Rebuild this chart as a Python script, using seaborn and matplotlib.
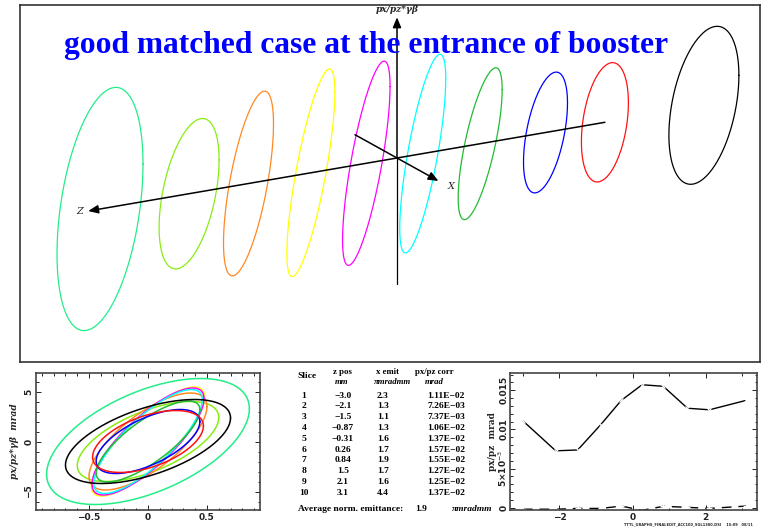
import numpy as np
import pandas as pd
import matplotlib
matplotlib.use("Agg")
import matplotlib.pyplot as plt
import seaborn as sns
from matplotlib.ticker import MultipleLocator, FixedLocator, FixedFormatter

# ---- slice data -------------------------------------------------------
slices = [1, 2, 3, 4, 5, 6, 7, 8, 9, 10]
z_pos = [-3.0, -2.1, -1.5, -0.87, -0.31, 0.26, 0.84, 1.5, 2.1, 3.1]          # mm
x_emit = [2.3, 1.3, 1.1, 1.3, 1.6, 1.7, 1.9, 1.7, 1.6, 4.4]                  # pi mrad mm
pxpz_corr = [1.11e-2, 7.26e-3, 7.37e-3, 1.06e-2, 1.37e-2,
             1.57e-2, 1.55e-2, 1.27e-2, 1.25e-2, 1.37e-2]                    # mrad
pxpz_offset = [-0.0002, -0.0002, -0.0001, -0.0001, 0.0002,
               -0.00034, 0.00017, 0.00004, -0.0001, 0.0002]                  # mrad
avg_emit = 1.9

# phase-space ellipse of each slice: half width in x, half height in px, x-px correlation
x_half = [0.86, 0.60, 0.50, 0.48, 0.475, 0.46, 0.44, 0.44, 0.47, 0.70]       # mm
p_half = [6.3, 4.0, 4.85, 5.45, 5.35, 5.2, 4.05, 3.2, 3.1, 4.2]              # mrad
xp_corr = [0.52, 0.60, 0.72, 0.82, 0.80, 0.80, 0.78, 0.62, 0.50, 0.56]

slice_colors = ["#22ee88", "#88ee11", "#ff8822", "#ffff00", "#ff00ff",
                "#00ffff", "#22bb33", "#0000ff", "#ff1111", "#000000"]

title = "good matched case at the entrance of booster"

W, H = 762, 532
fig = plt.figure(figsize=(W / 100, H / 100), dpi=100)
sns.set_style("white")
plt.rcParams["font.family"] = ["DejaVu Sans"]


def frac(x0, y0, x1, y1):
    """pixel box (left, top, right, bottom) -> figure fraction rect"""
    return [x0 / W, 1 - y1 / H, (x1 - x0) / W, (y1 - y0) / H]


# ---- build ellipse outlines --------------------------------------------
t = np.linspace(0, 2 * np.pi, 241)
rows = []
for s, xm, pm, r, z in zip(slices, x_half, p_half, xp_corr, z_pos):
    xs = xm * np.cos(t)
    ps = pm * (r * np.cos(t) - np.sqrt(1 - r * r) * np.sin(t))
    for k in range(len(t)):
        rows.append((s, k, z, xs[k], ps[k]))
ell = pd.DataFrame(rows, columns=["slice", "k", "z", "x", "p"])
palette = dict(zip(slices, slice_colors))

# oblique projection for the 3D view (screen units per mm / mrad)
Z_VEC = np.array([99.0, 17.0])
X_VEC = np.array([50.0, -27.7])
P_VEC = np.array([0.0, 21.0])
ell["sx"] = ell["z"] * Z_VEC[0] + ell["x"] * X_VEC[0] + ell["p"] * P_VEC[0]
ell["sy"] = ell["z"] * Z_VEC[1] + ell["x"] * X_VEC[1] + ell["p"] * P_VEC[1]

# ---- top panel: slices along z ------------------------------------------
ax3 = fig.add_axes(frac(20, 5, 760, 362))
ax3.set_xlim(-377, 363)
ax3.set_ylim(-204, 153)
ax3.set_xticks([])
ax3.set_yticks([])
for sp in ax3.spines.values():
    sp.set_color("#333333")
    sp.set_linewidth(1.2)

sns.lineplot(data=ell, x="sx", y="sy", hue="slice", palette=palette, sort=False,
             estimator=None, legend=False, linewidth=0.9, ax=ax3)
ax3.set_xlabel("")
ax3.set_ylabel("")

arrow = dict(arrowstyle="-|>,head_length=0.6,head_width=0.25", color="black",
             lw=1.1, shrinkA=0, shrinkB=0, mutation_scale=10)
# px axis
ax3.plot([0, 0], [-6.0 * P_VEC[1], 0], color="black", lw=0.9)
ax3.annotate("", xy=(0, 6.7 * P_VEC[1]), xytext=(0, 0), arrowprops=arrow)
ax3.text(0, 148, "px/pz*γβ", ha="center", va="center", fontsize=6.5,
         family="DejaVu Serif", style="italic", weight="bold")
# x axis
ax3.annotate("", xy=tuple(0.83 * X_VEC), xytext=tuple(-0.84 * X_VEC), arrowprops=arrow)
ax3.text(*(1.02 * X_VEC), "X", ha="left", va="center", fontsize=7,
         family="DejaVu Serif", style="italic")
# z axis
ax3.annotate("", xy=tuple(-3.12 * Z_VEC), xytext=tuple(2.1 * Z_VEC), arrowprops=arrow)
ax3.text(*(-3.17 * Z_VEC), "Z", ha="right", va="center", fontsize=7,
         family="DejaVu Serif", style="italic")

ax3.text(-31, 113, title, ha="center", va="center", fontsize=22.7,
         family="Liberation Serif", weight="bold", color="#0000ff")

# ---- bottom left: all slices in x-px phase space -------------------------
axL = fig.add_axes(frac(36, 373, 260, 510))
sns.lineplot(data=ell, x="x", y="p", hue="slice", palette=palette, sort=False,
             estimator=None, legend=False, linewidth=1.1, ax=axL)
axL.set_xlim(-0.95, 0.95)
axL.set_ylim(-6.85, 6.85)
axL.xaxis.set_major_locator(FixedLocator([-0.5, 0, 0.5]))
axL.xaxis.set_major_formatter(FixedFormatter(["−0.5", "0", "0.5"]))
axL.xaxis.set_minor_locator(MultipleLocator(0.1))
axL.yaxis.set_major_locator(FixedLocator([-5, 0, 5]))
axL.yaxis.set_major_formatter(FixedFormatter(["−5", "0", "5"]))
axL.yaxis.set_minor_locator(MultipleLocator(1))
axL.set_xlabel("")
axL.set_ylabel("px/pz*γβ  mrad", fontsize=6.5, family="DejaVu Serif",
               style="italic", weight="bold", labelpad=4)

# ---- bottom right: correlation vs z --------------------------------------
axR = fig.add_axes(frac(510, 373, 757, 510))
sns.lineplot(x=z_pos, y=pxpz_corr, color="black", marker="x", markersize=3,
             markeredgewidth=0.8, linewidth=1.0, ax=axR)
sns.lineplot(x=z_pos, y=pxpz_offset, color="black", marker="+", markersize=4,
             markeredgewidth=0.8, linewidth=1.0, ax=axR)
axR.lines[-1].set_dashes((7, 5))
axR.set_xlim(-3.35, 3.4)
axR.set_ylim(-0.0003, 0.0172)
axR.xaxis.set_major_locator(FixedLocator([-2, 0, 2]))
axR.xaxis.set_major_formatter(FixedFormatter(["−2", "0", "2"]))
axR.xaxis.set_minor_locator(FixedLocator([-3, -1, 1, 3]))
axR.yaxis.set_major_locator(FixedLocator([0, 0.005, 0.01, 0.015]))
axR.yaxis.set_major_formatter(FixedFormatter(["0", r"5×10$^{-3}$", "0.01", "0.015"]))
axR.yaxis.set_minor_locator(MultipleLocator(0.001))
axR.set_xlabel("")
axR.set_ylabel("px/pz  mrad", fontsize=6.5, family="DejaVu Serif",
               weight="bold")
axR.yaxis.set_label_coords(-0.052, 0.5)

for ax in (axL, axR):
    for sp in ax.spines.values():
        sp.set_visible(True)
        sp.set_color("#444444")
        sp.set_linewidth(1.2)
    ax.tick_params(which="both", direction="in", top=True, right=True,
                   bottom=True, left=True, colors="#222222", width=0.7)
    ax.tick_params(which="major", length=3.5, pad=2, labelsize=6.5)
    ax.tick_params(which="minor", length=1.8)
    for lab in ax.get_xticklabels() + ax.get_yticklabels():
        lab.set_fontweight("bold")
    for lab in ax.get_yticklabels():
        lab.set_rotation(90)
        lab.set_va("center")
axR.tick_params(axis="y", which="major", pad=1)

# ---- slice table ----------------------------------------------------------
tfont = dict(fontsize=6.8, family="Liberation Serif", weight="bold", color="black")


def ftxt(x, y, s, ha="center", size=None, **kw):
    opts = dict(tfont)
    if size is not None:
        opts["fontsize"] = size
    opts.update(kw)
    fig.text(x / W, 1 - y / H, s, ha=ha, va="center", **opts)


ftxt(307, 376, "Slice")
ftxt(342, 372.5, "z pos", size=6.3)
ftxt(342, 381.5, "mm", style="italic", size=6.3)
ftxt(387, 372.5, "x emit", size=6.3)
ftxt(392, 381.5, "πmradmm", style="italic", size=6.3)
ftxt(434, 372.5, "px/pz corr", size=6.3)
ftxt(434, 381.5, "mrad", style="italic", size=6.3)

row_y0, row_dy = 395.5, 10.8
for i, (s, z, e, c) in enumerate(zip(slices, z_pos, x_emit, pxpz_corr)):
    y = row_y0 + i * row_dy
    ftxt(304, y, str(s))
    ftxt(343, y, ("%#.2g" % z).replace("-", "−"))
    ftxt(383, y, "%#.2g" % e)
    ftxt(446, y, ("%.2E" % c).replace("-", "−"))
ftxt(298, 509, "Average norm. emittance:", ha="left")
ftxt(421, 509, "%#.2g" % avg_emit)
ftxt(452, 509, "πmradmm", ha="left", style="italic")

fig.text(688 / W, 1 - 524 / H, "TTTL_GRAPHS_FINALEDIT_ACC100_SGL1300.DSI    15:09   08/11",
         ha="center", va="center", fontsize=2.6, weight="bold")

fig.savefig("out.png", dpi=100)
